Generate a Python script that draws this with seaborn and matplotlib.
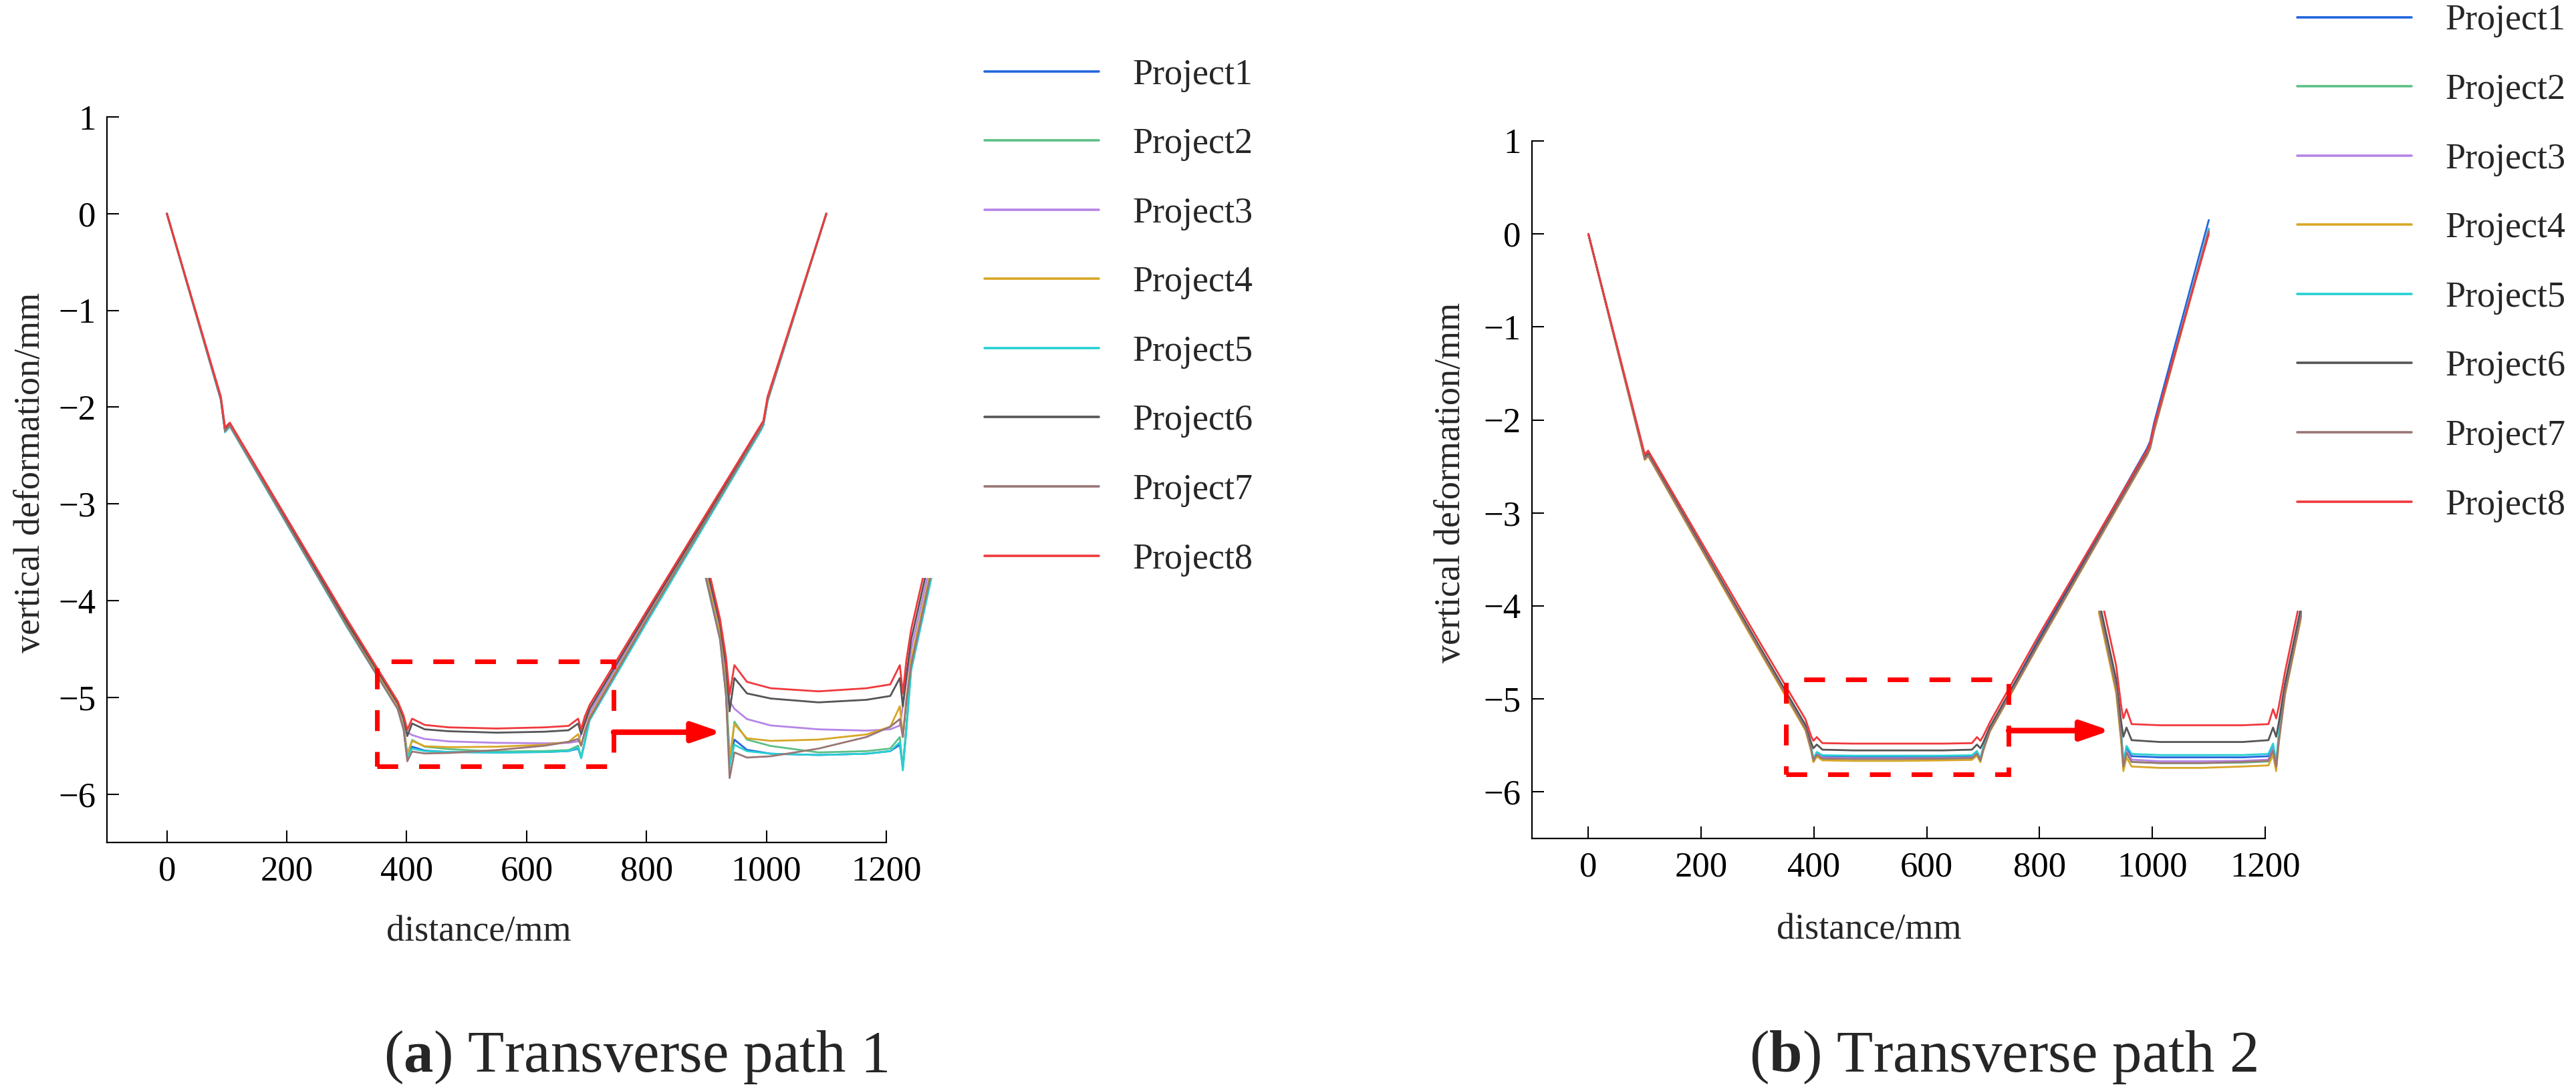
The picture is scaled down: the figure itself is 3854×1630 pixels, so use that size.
import pandas as pd
import seaborn as sns
import matplotlib.pyplot as plt
from matplotlib.patches import Rectangle

# ---- data ----
projects = ["Project1", "Project2", "Project3", "Project4",
            "Project5", "Project6", "Project7", "Project8"]
colors = ["#2266dd", "#5cbf85", "#b585e6", "#d8a626",
          "#27d0d3", "#555555", "#9a7676", "#f0393c"]

# transverse path 1
dist_a = [0, 90, 97, 105, 300, 385, 395, 401, 409, 430, 470, 550,
          630, 670, 686, 691, 697, 705, 800, 990, 995, 1002, 1100]
a_p1 = [0, -1.92, -2.25, -2.19, -4.25, -5.11, -5.32, -5.60, -5.51, -5.55, -5.565, -5.57,
        -5.565, -5.555, -5.53, -5.62, -5.46, -5.22, -4.21, -2.24, -2.18, -1.93, 0]
a_p2 = [0, -1.92, -2.25, -2.19, -4.26, -5.11, -5.32, -5.62, -5.44, -5.51, -5.535, -5.56,
        -5.555, -5.545, -5.50, -5.62, -5.46, -5.22, -4.21, -2.24, -2.18, -1.93, 0]
a_p3 = [0, -1.91, -2.24, -2.18, -4.23, -5.08, -5.25, -5.36, -5.39, -5.43, -5.455, -5.47,
        -5.475, -5.47, -5.455, -5.38, -5.28, -5.16, -4.17, -2.22, -2.16, -1.92, 0]
a_p4 = [0, -1.92, -2.25, -2.19, -4.25, -5.10, -5.30, -5.58, -5.45, -5.505, -5.515, -5.51,
        -5.49, -5.46, -5.38, -5.50, -5.35, -5.20, -4.19, -2.23, -2.17, -1.93, 0]
a_p5 = [0, -1.93, -2.26, -2.20, -4.27, -5.12, -5.33, -5.61, -5.53, -5.555, -5.565, -5.57,
        -5.565, -5.555, -5.52, -5.63, -5.47, -5.24, -4.23, -2.25, -2.19, -1.94, 0]
a_p6 = [0, -1.91, -2.23, -2.18, -4.22, -5.06, -5.22, -5.40, -5.27, -5.33, -5.35, -5.365,
        -5.355, -5.34, -5.27, -5.38, -5.26, -5.12, -4.14, -2.21, -2.15, -1.91, 0]
a_p7 = [0, -1.92, -2.25, -2.19, -4.26, -5.12, -5.34, -5.66, -5.56, -5.58, -5.575, -5.545,
        -5.50, -5.46, -5.43, -5.50, -5.36, -5.22, -4.20, -2.23, -2.17, -1.93, 0]
a_p8 = [0, -1.89, -2.21, -2.16, -4.19, -5.04, -5.19, -5.335, -5.22, -5.285, -5.31, -5.322,
        -5.31, -5.295, -5.22, -5.33, -5.20, -5.08, -4.11, -2.19, -2.14, -1.89, 0]

# transverse path 2
dist_b = [0, 92, 100, 106, 300, 385, 395, 399, 405, 415, 470, 550,
          630, 680, 689, 695, 700, 712, 800, 990, 996, 1003, 1100]
b_p1 = [0, -2.21, -2.41, -2.37, -4.42, -5.31, -5.53, -5.65, -5.58, -5.615, -5.62, -5.62,
        -5.62, -5.615, -5.57, -5.65, -5.53, -5.31, -4.34, -2.31, -2.23, -2.03, 0.15]
b_p2 = [0, -2.22, -2.42, -2.38, -4.43, -5.32, -5.54, -5.67, -5.60, -5.64, -5.645, -5.645,
        -5.643, -5.638, -5.59, -5.67, -5.55, -5.34, -4.39, -2.38, -2.30, -2.11, 0.04]
b_p3 = [0, -2.22, -2.42, -2.38, -4.43, -5.32, -5.54, -5.66, -5.59, -5.63, -5.637, -5.637,
        -5.635, -5.63, -5.58, -5.66, -5.54, -5.34, -4.39, -2.38, -2.30, -2.11, 0.06]
b_p4 = [0, -2.23, -2.43, -2.39, -4.45, -5.34, -5.56, -5.68, -5.62, -5.66, -5.666, -5.666,
        -5.66, -5.655, -5.61, -5.68, -5.56, -5.35, -4.40, -2.39, -2.31, -2.12, 0.02]
b_p5 = [0, -2.21, -2.41, -2.37, -4.42, -5.31, -5.52, -5.64, -5.57, -5.605, -5.61, -5.61,
        -5.61, -5.605, -5.56, -5.64, -5.52, -5.33, -4.38, -2.37, -2.29, -2.10, 0.05]
b_p6 = [0, -2.20, -2.40, -2.36, -4.40, -5.28, -5.47, -5.53, -5.49, -5.545, -5.553, -5.553,
        -5.553, -5.545, -5.49, -5.53, -5.47, -5.30, -4.36, -2.36, -2.28, -2.09, 0.03]
b_p7 = [0, -2.22, -2.42, -2.38, -4.43, -5.32, -5.54, -5.66, -5.60, -5.64, -5.645, -5.645,
        -5.64, -5.635, -5.59, -5.66, -5.55, -5.34, -4.39, -2.38, -2.30, -2.11, 0.03]
b_p8 = [0, -2.18, -2.37, -2.33, -4.35, -5.22, -5.40, -5.45, -5.41, -5.475, -5.48, -5.48,
        -5.48, -5.475, -5.41, -5.45, -5.40, -5.25, -4.30, -2.33, -2.25, -2.06, 0.0]

series_a = [a_p1, a_p2, a_p3, a_p4, a_p5, a_p6, a_p7, a_p8]
series_b = [b_p1, b_p2, b_p3, b_p4, b_p5, b_p6, b_p7, b_p8]

xticks = [0, 200, 400, 600, 800, 1000, 1200]
yticks = [-6, -5, -4, -3, -2, -1, 0, 1]
zoom_box = (350, 745)


def long_form(dist, series):
    rows = []
    for name, vals in zip(projects, series):
        for d, v in zip(dist, vals):
            rows.append({"distance": d, "deformation": v, "project": name})
    return pd.DataFrame(rows)


sns.set_style("ticks")
plt.rcParams["font.family"] = ["Liberation Serif", "DejaVu Serif"]
plt.rcParams["mathtext.fontset"] = "custom"
plt.rcParams["mathtext.rm"] = "Liberation Serif"
plt.rcParams["mathtext.bf"] = "Liberation Serif:bold"

W, H = 3854, 1630
fig = plt.figure(figsize=(W / 100, H / 100), dpi=100)
palette = dict(zip(projects, colors))


def px_rect(x0, x1, y0, y1):
    # pixel box (top-left origin) -> figure fraction
    return [x0 / W, (H - y1) / H, (x1 - x0) / W, (y1 - y0) / H]


def panel(df, ax_box, ins_box, ins_ylim, box_y, arrow_y, ylab_x, xlab_pos,
          leg_anchor, leg_spacing, caption, cap_x):
    ax = fig.add_axes(px_rect(*ax_box))
    sns.lineplot(data=df, x="distance", y="deformation", hue="project",
                 palette=palette, hue_order=projects, ax=ax, sort=False,
                 estimator=None, linewidth=2, legend=False)
    ax.set_xlim(-100, 1200)
    ax.set_ylim(-6.5, 1)
    ax.set_xticks(xticks)
    ax.set_yticks(yticks)
    sns.despine(ax=ax)
    for s in ["left", "bottom"]:
        ax.spines[s].set_linewidth(1.6)
        ax.spines[s].set_color("black")
    ax.tick_params(direction="in", length=13, width=1.5, labelsize=38,
                   colors="black")
    ax.tick_params(axis="x", pad=14)
    ax.tick_params(axis="y", pad=12)
    ax.set_xlabel("distance/mm", fontsize=39)
    ax.set_ylabel("vertical deformation/mm", fontsize=39)
    ax.yaxis.set_label_coords(ylab_x, 0.51)
    ax.xaxis.set_label_coords(*xlab_pos)

    # dashed zoom window and arrow
    ax.add_patch(Rectangle((zoom_box[0], box_y[0]), zoom_box[1] - zoom_box[0],
                           box_y[1] - box_y[0], fill=False, edgecolor="red",
                           linewidth=5, linestyle=(0, (4.5, 4.5)), zorder=5))
    ax.annotate("", xy=(925, arrow_y), xytext=(zoom_box[1], arrow_y),
                arrowprops=dict(arrowstyle="-|>,head_length=1.3,head_width=0.45",
                                color="red", lw=6, mutation_scale=20,
                                shrinkA=0, shrinkB=0), zorder=6)

    # magnified view
    ins = fig.add_axes(px_rect(*ins_box))
    sns.lineplot(data=df, x="distance", y="deformation", hue="project",
                 palette=palette, hue_order=projects, ax=ins, sort=False,
                 estimator=None, linewidth=2, legend=False)
    ins.set_xlim(*zoom_box)
    ins.set_ylim(*ins_ylim)
    ins.set_axis_off()
    ins.patch.set_alpha(0)

    handles = ax.get_lines()[:len(projects)]
    leg = fig.legend(handles, projects, loc="upper left",
                     bbox_to_anchor=leg_anchor, frameon=False, fontsize=39,
                     handlelength=3.15, handletextpad=0.94,
                     labelspacing=leg_spacing, borderpad=0, borderaxespad=0)
    for line in leg.get_lines():
        line.set_linewidth(2.6)

    fig.text(cap_x / W, 0.016, caption, fontsize=64, ha="center",
             va="baseline")
    return ax


df_a = long_form(dist_a, series_a)
df_b = long_form(dist_b, series_b)

panel(df_a, (160, 1326, 175, 1261), (1046, 1399, 865, 1175), (-5.687, -4.88),
      (-5.71, -4.63), -5.36, -0.0763, (0.4775, -0.100),
      (1473 / W, 1 - 87 / H), 0.98, r"($\mathbf{a}$) Transverse path 1", 951)
panel(df_b, (2292, 3389, 211, 1255), (3139, 3444, 914, 1160), (-5.697, -4.98),
      (-5.81, -4.79), -5.34, -0.0875, (0.4594, -0.107),
      (3437 / W, 1 - 6 / H), 0.98, r"($\mathbf{b}$) Transverse path 2", 2997)

fig.savefig("out.png", dpi=100)
